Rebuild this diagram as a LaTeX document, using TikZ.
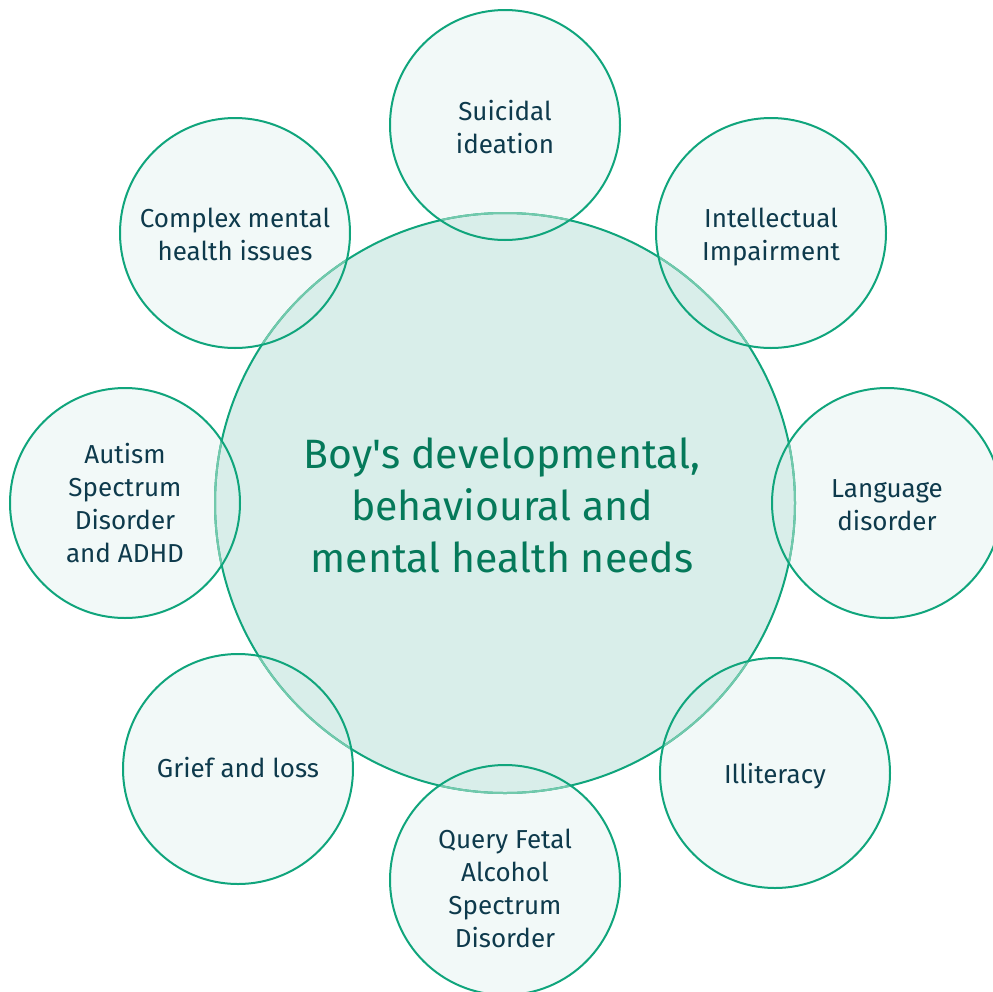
\documentclass[tikz,border=0pt]{standalone}
\usepackage{fontspec}
\usetikzlibrary{calc}
\setmainfont{Fira Sans}
\definecolor{ring}{HTML}{10A57C}
\definecolor{ringsoft}{HTML}{72C9AC}
\definecolor{hubfill}{HTML}{D9EEEA}
\definecolor{satbg}{HTML}{F2F9F8}
\definecolor{labeltext}{HTML}{0E3A4C}
\definecolor{hubtext}{HTML}{05795A}
\begin{document}
\begin{tikzpicture}[x=1pt,y=-1pt,
  satfill/.style={fill=satbg},
  satring/.style={draw=ring, line width=2pt},
  satlabel/.style={text=labeltext, align=center,
    font=\fontsize{26}{33}\selectfont},
  hublabel/.style={text=hubtext, align=center,
    font=\fontsize{41}{52}\selectfont}]
\useasboundingbox (0,0) rectangle (993,991);
\clip (0,0) rectangle (993,991);

% centres of the eight outer circles
\coordinate (c1) at (505,125);
\coordinate (c2) at (771,233);
\coordinate (c3) at (887,503);
\coordinate (c4) at (775,773);
\coordinate (c5) at (505,880);
\coordinate (c6) at (238,769);
\coordinate (c7) at (125,503);
\coordinate (c8) at (235,233);
\coordinate (hub) at (505,503);

% outer circle backgrounds
\foreach \c in {c1,c2,c3,c4,c5,c6,c7,c8}{
  \fill[satfill] (\c) circle (115);
}

% central disc
\fill[hubfill] (hub) circle (290);
\draw[ring, line width=2pt] (hub) circle (290);

% hub rim is softer where it passes under an outer circle
\foreach \c in {c1,c2,c3,c4,c5,c6,c7,c8}{
  \begin{scope}
    \clip (\c) circle (115);
    \draw[ringsoft, line width=2pt] (hub) circle (290);
  \end{scope}
}
\foreach \c in {c1,c2,c3,c4,c5,c6,c7,c8}{
  \draw[satring] (\c) circle (115);
}

% labels
\node[hublabel] (hubtxt) at (502,505) {Boy\textquotesingle s developmental,\\behavioural and\\mental health needs};
\node[satlabel] (t1) at ($(c1)+(0,2)$) {Suicidal\\ideation};
\node[satlabel] (t2) at ($(c2)+(0,4)$) {Intellectual\\Impairment};
\node[satlabel] (t3) at ($(c3)+(0,2)$) {Language\\disorder};
\node[satlabel] (t4) at ($(c4)+(0,3)$) {Illiteracy};
\node[satlabel] (t5) at ($(c5)+(0,8)$) {Query Fetal\\Alcohol\\Spectrum\\Disorder};
\node[satlabel] (t6) at ($(c6)+(0,-1)$) {Grief and loss};
\node[satlabel] (t7) at ($(c7)+(0,0)$) {Autism\\Spectrum\\Disorder\\and ADHD};
\node[satlabel] (t8) at ($(c8)+(0,1)$) {Complex mental\\health issues};
\end{tikzpicture}
\end{document}
